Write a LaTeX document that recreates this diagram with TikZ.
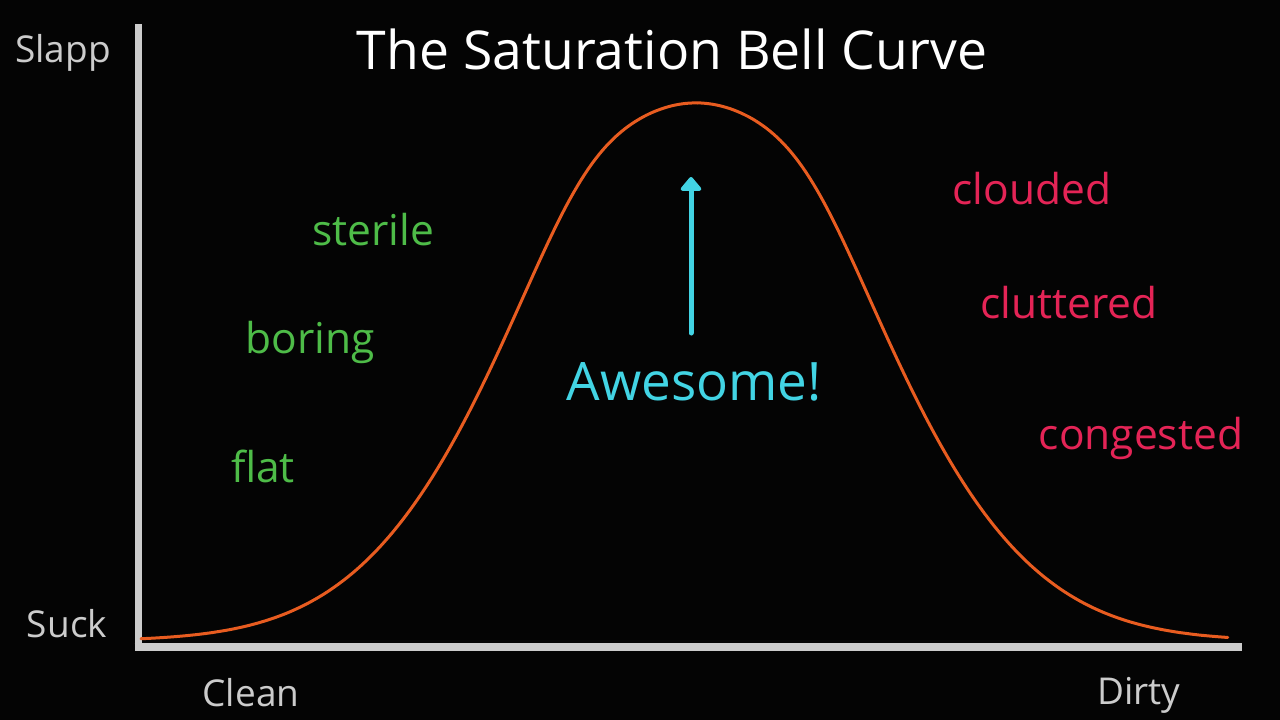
\documentclass[tikz,border=0pt]{standalone}
\usepackage{fontspec}
\setmainfont{Open Sans}
\usetikzlibrary{arrows.meta}
\definecolor{bg}{RGB}{4,4,4}
\definecolor{axisgrey}{RGB}{204,204,204}
\definecolor{curveorange}{RGB}{232,92,32}
\definecolor{goodgreen}{RGB}{78,188,72}
\definecolor{badred}{RGB}{228,36,86}
\definecolor{awecyan}{RGB}{66,212,228}
\tikzset{
  axislabel/.style={text=axisgrey, anchor=base, inner sep=0pt, font=\fontsize{37}{40}\selectfont},
  cleanword/.style={text=goodgreen, anchor=base, inner sep=0pt, font=\fontsize{42.5}{46}\selectfont},
  dirtyword/.style={text=badred, anchor=base, inner sep=0pt, font=\fontsize{42.5}{46}\selectfont},
  axisline/.style={draw=axisgrey},
  declare function={bellg(\u)=\u*\u*(0.093+0.085*(\u*\u*\u*\u)/(\u*\u*\u*\u+4.42));}
}
\begin{document}
\begin{tikzpicture}[x=1pt,y=-1pt]
\fill[bg] (0,0) rectangle (1280,720);
\useasboundingbox (0,0) rectangle (1280,720);
% axes
\coordinate (ytop) at (138,24);
\coordinate (origin) at (138,647);
\coordinate (xend) at (1242,647);
\draw[axisline, line width=7pt] (ytop) -- (138,651);
\draw[axisline, line width=8pt] (134.5,647) -- (xend);
% title
\node[text=white, anchor=base, inner sep=0pt, font=\fontsize{53.5}{58}\selectfont] (title) at (672,69) {The Saturation Bell Curve};
% axis labels
\node[axislabel] (slapp) at (63,62) {Slapp};
\node[axislabel] (suck) at (67,637) {Suck};
\node[axislabel] (clean) at (251,706) {Clean};
\node[axislabel] (dirty) at (1139,704) {Dirty};
% curve
\draw[curveorange, line width=3pt, line cap=round]
  plot[domain=-5.55:5.32, samples=300, variable=\u]
  ({696+100*\u}, {641-538*exp(-bellg(\u))});
% words
\node[cleanword] (sterile) at (373,245) {sterile};
\node[cleanword] (boring) at (310,353) {boring};
\node[cleanword] (flat) at (263,482) {flat};
\node[dirtyword] (clouded) at (1032,204) {clouded};
\node[dirtyword] (cluttered) at (1069,318) {cluttered};
\node[dirtyword] (congested) at (1141,449) {congested};
\node[text=awecyan, anchor=base, inner sep=0pt, font=\fontsize{53}{57}\selectfont] (awesome) at (694,400) {Awesome!};
% arrow
\coordinate (arrowtail) at (691,333);
\coordinate (arrowtip) at (691,177);
\draw[awecyan, line width=5pt, line cap=round, -{Triangle[round, width=24pt, length=15pt]}] (arrowtail) -- (arrowtip);
\end{tikzpicture}
\end{document}
